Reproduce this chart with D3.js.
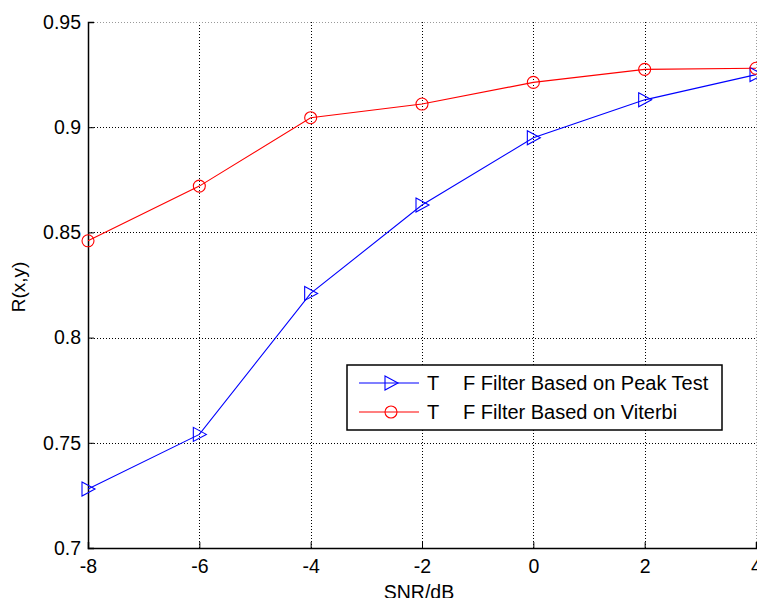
<!DOCTYPE html>
<html>
<head>
<meta charset="utf-8">
<script src="https://cdn.jsdelivr.net/npm/d3@7"></script>
<style>
  body { margin: 0; background: #fff; }
  svg { display: block; font-family: "Liberation Sans", Arial, sans-serif; }
</style>
</head>
<body>
<div id="chart"></div>
<script>
// data
const snr = [-8, -6, -4, -2, 0, 2, 4];
const peakTest = [0.728, 0.754, 0.821, 0.863, 0.895, 0.913, 0.925];
const viterbi = [0.846, 0.872, 0.9045, 0.911, 0.9213, 0.9275, 0.928];
const xTicks = [-8, -6, -4, -2, 0, 2, 4];
const yTicks = [0.7, 0.75, 0.8, 0.85, 0.9, 0.95];
const legendLabels = ["F Filter Based on Peak Test", "F Filter Based on Viterbi"];

const width = 757, height = 598;
const margin = { left: 88, right: 1, top: 22, bottom: 50 };

const svg = d3.select("#chart").append("svg")
    .attr("width", width)
    .attr("height", height);

const x = d3.scaleLinear().domain([-8, 4]).range([margin.left, width - margin.right]);
const y = d3.scaleLinear().domain([0.7, 0.95]).range([height - margin.bottom, margin.top]);

// grid
const grid = svg.append("g").attr("stroke", "#000").attr("stroke-width", 1)
    .attr("stroke-dasharray", "1,2").attr("shape-rendering", "crispEdges");
xTicks.forEach(t => {
    grid.append("line")
        .attr("x1", Math.round(x(t)) + 0.5).attr("x2", Math.round(x(t)) + 0.5)
        .attr("y1", y(0.95)).attr("y2", y(0.7))
        .attr("stroke", t === 4 ? "#999" : "#000");
});
yTicks.forEach(t => {
    grid.append("line")
        .attr("x1", x(-8)).attr("x2", x(4))
        .attr("y1", Math.round(y(t)) + 0.5).attr("y2", Math.round(y(t)) + 0.5)
        .attr("stroke", t === 0.95 ? "#999" : "#000");
});

// axes
const xAxis = svg.append("g")
    .attr("transform", `translate(0,${y(0.7)})`)
    .call(d3.axisBottom(x).tickValues(xTicks).tickSize(-6).tickPadding(11).tickFormat(d => String(d)));
const yAxis = svg.append("g")
    .attr("transform", `translate(${x(-8)},0)`)
    .call(d3.axisLeft(y).tickValues(yTicks).tickSize(-6).tickPadding(7).tickFormat(d => String(d)));

[xAxis, yAxis].forEach(a => {
    a.select(".domain").attr("stroke", "#000").attr("stroke-width", 1.5);
    a.selectAll(".tick line").attr("stroke", "#000");
    a.selectAll("text").attr("font-size", 19.5).attr("fill", "#000")
        .attr("font-family", "Liberation Sans, Arial, sans-serif");
});

// axis labels
svg.append("text")
    .attr("x", 419).attr("y", 599)
    .attr("text-anchor", "middle").attr("font-size", 19.5)
    .text("SNR/dB");
svg.append("text")
    .attr("transform", "translate(25,287) rotate(-90)")
    .attr("text-anchor", "middle").attr("font-size", 19)
    .text("R(x,y)");

// lines
const line = d3.line().x((d, i) => x(snr[i])).y(d => y(d));

svg.append("path").datum(peakTest)
    .attr("fill", "none").attr("stroke", "#0000ff").attr("stroke-width", 1.1)
    .attr("d", line);
svg.append("path").datum(viterbi)
    .attr("fill", "none").attr("stroke", "#ff0000").attr("stroke-width", 1.1)
    .attr("d", line);

function triangle(g, cx, cy) {
    g.append("path")
        .attr("d", `M${cx - 6},${cy - 7}L${cx + 7},${cy}L${cx - 6},${cy + 7}Z`)
        .attr("fill", "none").attr("stroke", "#0000ff").attr("stroke-width", 1.1);
}
function circle(g, cx, cy) {
    g.append("circle").attr("cx", cx).attr("cy", cy).attr("r", 6)
        .attr("fill", "none").attr("stroke", "#ff0000").attr("stroke-width", 1.1);
}

const marks = svg.append("g");
peakTest.forEach((v, i) => triangle(marks, x(snr[i]), y(v)));
viterbi.forEach((v, i) => circle(marks, x(snr[i]), y(v)));

// legend
const lg = svg.append("g");
lg.append("rect")
    .attr("x", 347).attr("y", 365).attr("width", 375).attr("height", 65)
    .attr("fill", "#fff").attr("stroke", "#000").attr("stroke-width", 1.5);
const rows = [{ color: "#0000ff", mark: triangle, y: 383 }, { color: "#ff0000", mark: circle, y: 412 }];
rows.forEach((r, i) => {
    lg.append("line").attr("x1", 359).attr("x2", 419).attr("y1", r.y).attr("y2", r.y)
        .attr("stroke", r.color).attr("stroke-width", 1.1);
    r.mark(lg, 391, r.y);
    lg.append("text").attr("x", 427).attr("y", r.y + 7).attr("font-size", 20).text("T");
    lg.append("text").attr("x", 463).attr("y", r.y + 7).attr("font-size", 20).text(legendLabels[i]);
});
</script>
</body>
</html>
